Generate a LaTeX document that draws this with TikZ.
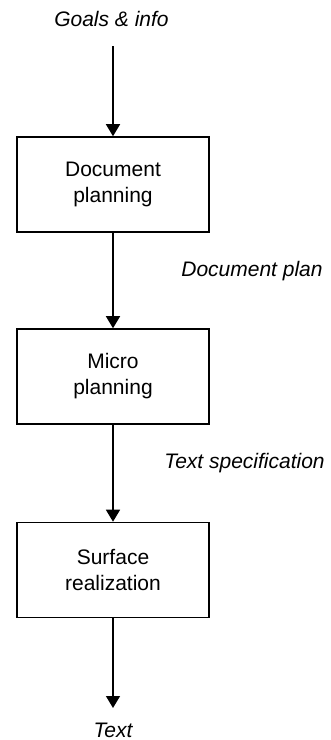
\documentclass[tikz,border=0pt]{standalone}
\usepackage{fontspec}
\setmainfont{Liberation Sans}
\usetikzlibrary{arrows.meta}
\tikzset{
	stagebox/.style={draw, line width=1.6pt, minimum width=192pt, minimum height=95pt, align=center, font=\fontsize{21}{26}\selectfont},
	flowlabel/.style={font=\fontsize{21}{26}\selectfont\itshape},
	flow/.style={line width=1.4pt, -{Triangle[width=14pt,length=12pt]}}
}
\begin{document}
\begin{tikzpicture}[x=1pt, y=-1pt]
	\useasboundingbox (0, 0) rectangle (330, 740);
	\node[flowlabel] (goals) at (111.5, 19) {Goals \& info};
	\coordinate (start) at (113, 46);

	\node[stagebox] (docplanning) at (113, 184.5) {Document\\planning};
	\node[stagebox] (microplanning) at (113, 376.5) {Micro\\planning};
	\node[stagebox] (realization) at (113, 570) {Surface\\realization};

	\node[flowlabel] (docplan) at (252, 271) {Document plan};
	\node[flowlabel] (textspec) at (244.5, 463) {Text specification};

	\coordinate (finish) at (113, 708);
	\node[flowlabel] (text) at (113, 730) {Text};

	\draw[flow] (start) -- (docplanning.north);
	\draw[flow] (docplanning.south) -- (microplanning.north);
	\draw[flow] (microplanning.south) -- (realization.north);
	\draw[flow] (realization.south) -- (finish);
\end{tikzpicture}
\end{document}
